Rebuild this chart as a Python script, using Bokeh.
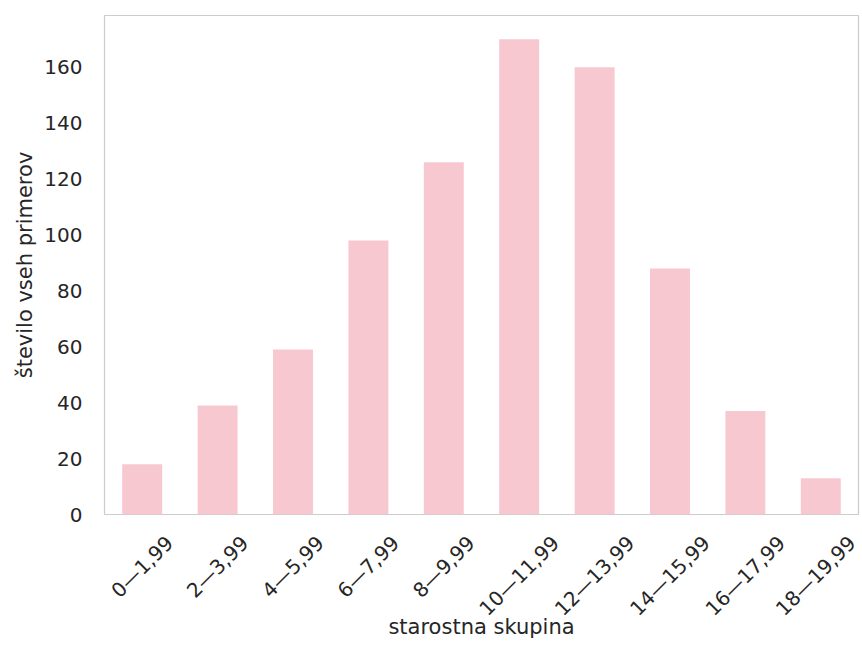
import math
from bokeh.plotting import figure
from bokeh.models import Range1d, ColumnDataSource, FixedTicker
from bokeh.embed import file_html
from bokeh.resources import INLINE

categories = ["0—1,99", "2—3,99", "4—5,99", "6—7,99", "8—9,99",
              "10—11,99", "12—13,99", "14—15,99", "16—17,99", "18—19,99"]
counts = [18, 39, 59, 98, 126, 170, 160, 88, 37, 13]
y_ticks = [0, 20, 40, 60, 80, 100, 120, 140, 160]

FONT_PX = 20
WIDTH, HEIGHT = 860, 648
BORDER_L, BORDER_R = 104, 2
# approximate DejaVu Sans advance widths (em), used to centre the rotated
# tick labels on their bars the way matplotlib does
ADV = {"—": 1.0, ",": 0.318}

n = len(categories)
slot = [i + 0.5 for i in range(n)]  # centre of each category slot
src = ColumnDataSource(dict(x=slot, n=counts))

p = figure(width=WIDTH, height=HEIGHT, output_backend="svg", toolbar_location=None,
           x_range=Range1d(0, n), y_range=Range1d(0, max(counts) * 1.05),
           min_border_left=BORDER_L, min_border_top=15, min_border_right=BORDER_R,
           min_border_bottom=134)

p.vbar(x="x", top="n", width=0.53, source=src, fill_color="#F7C8D0", line_color=None)

p.outline_line_color = "#cccccc"
p.outline_line_width = 1.2
p.xgrid.visible = False
p.ygrid.visible = False

# ticks nudged so the right-anchored rotated labels end up centred under
# each bar, as matplotlib centres them
px_per_unit = (WIDTH - BORDER_L - BORDER_R) / n
tick_pos, overrides = [], {}
for s, c in zip(slot, categories):
    w = sum(ADV.get(ch, 0.636) for ch in c) * FONT_PX
    shift = (0.7071 * (w + 14) / 2 - 5) / px_per_unit
    t = round(s + shift, 4)
    tick_pos.append(t)
    overrides[t] = c

p.xaxis.ticker = FixedTicker(ticks=tick_pos)
p.xaxis.major_label_overrides = overrides

for ax in (p.xaxis[0], p.yaxis[0]):
    ax.axis_line_color = None
    ax.major_tick_line_color = None
    ax.minor_tick_line_color = None
    ax.major_label_text_font = "DejaVu Sans"
    ax.major_label_text_font_size = f"{FONT_PX}px"
    ax.major_label_text_color = "#262626"
    ax.axis_label_text_font = "DejaVu Sans"
    ax.axis_label_text_font_size = "21px"
    ax.axis_label_text_font_style = "normal"
    ax.axis_label_text_color = "#262626"

p.yaxis.ticker = y_ticks
p.yaxis.major_label_standoff = 16
p.yaxis.axis_label = "število vseh primerov"
p.yaxis.axis_label_standoff = 4

p.xaxis.major_label_orientation = math.pi / 4
p.xaxis.major_label_standoff = 19
p.xaxis.axis_label = "starostna skupina"
p.xaxis.axis_label_standoff = -17

open("out.html", "w").write(file_html(p, INLINE))
